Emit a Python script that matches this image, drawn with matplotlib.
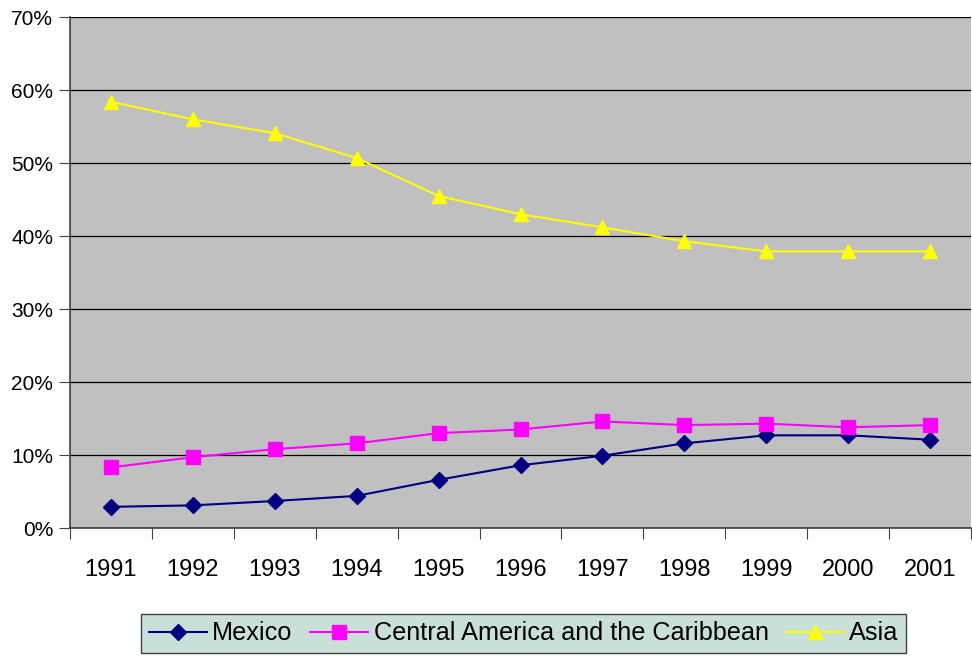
import matplotlib.pyplot as plt
from matplotlib.ticker import FuncFormatter, FixedLocator

plt.rcParams['font.family'] = ['Liberation Sans', 'DejaVu Sans']

years = ['1991', '1992', '1993', '1994', '1995', '1996',
         '1997', '1998', '1999', '2000', '2001']
mexico = [2.9, 3.1, 3.7, 4.4, 6.6, 8.6, 9.9, 11.6, 12.7, 12.7, 12.1]
central_america = [8.3, 9.7, 10.8, 11.6, 13.0, 13.5, 14.6, 14.1, 14.3, 13.8, 14.1]
asia = [58.4, 56.0, 54.1, 50.7, 45.5, 43.0, 41.2, 39.3, 37.9, 37.9, 37.9]

fig = plt.figure(figsize=(9.72, 6.6), dpi=100)
ax = fig.add_axes([0.072, 0.2, 0.927, 0.774])
ax.set_facecolor('#c0c0c0')

x = list(range(len(years)))
ax.plot(x, mexico, color='#000080', marker='D', markersize=8, lw=1.5, label='Mexico')
ax.plot(x, central_america, color='#ff00ff', marker='s', markersize=10, lw=1.5,
        label='Central America and the Caribbean')
ax.plot(x, asia, color='#ffff00', marker='^', markersize=10, lw=1.5, label='Asia')

ax.set_xlim(-0.5, len(years) - 0.5)
ax.set_ylim(0, 70)
ax.set_yticks(range(0, 71, 10))
ax.yaxis.set_major_formatter(FuncFormatter(lambda v, p: '%d%%' % v))
ax.yaxis.grid(True, color='black', lw=0.9)
ax.set_axisbelow(True)

# category axis: ticks between categories, labels centred
ax.xaxis.set_major_locator(FixedLocator([i - 0.5 for i in range(len(years) + 1)]))
ax.xaxis.set_minor_locator(FixedLocator(x))
ax.set_xticklabels([])
ax.set_xticklabels(years, minor=True)
ax.tick_params(axis='x', which='major', length=8, direction='out', color='#404040')
ax.tick_params(axis='x', which='minor', length=0, labelsize=17, pad=22)
ax.tick_params(axis='y', length=8, direction='out', labelsize=15, color='#404040', pad=4)

for s in ['top', 'right']:
    ax.spines[s].set_visible(False)
for s in ['left', 'bottom']:
    ax.spines[s].set_color('#404040')
    ax.spines[s].set_linewidth(1.2)

leg = fig.legend(loc='upper center', bbox_to_anchor=(0.539, 0.07), ncol=3,
                 fontsize=18.2, frameon=True, fancybox=False, handlelength=2.3,
                 handletextpad=0.2, columnspacing=0.7, borderpad=0.3,
                 borderaxespad=0)
leg.get_frame().set_facecolor('#c8e0d8')
leg.get_frame().set_edgecolor('#404040')
leg.get_frame().set_alpha(1)

fig.savefig('out.png', dpi=100)
